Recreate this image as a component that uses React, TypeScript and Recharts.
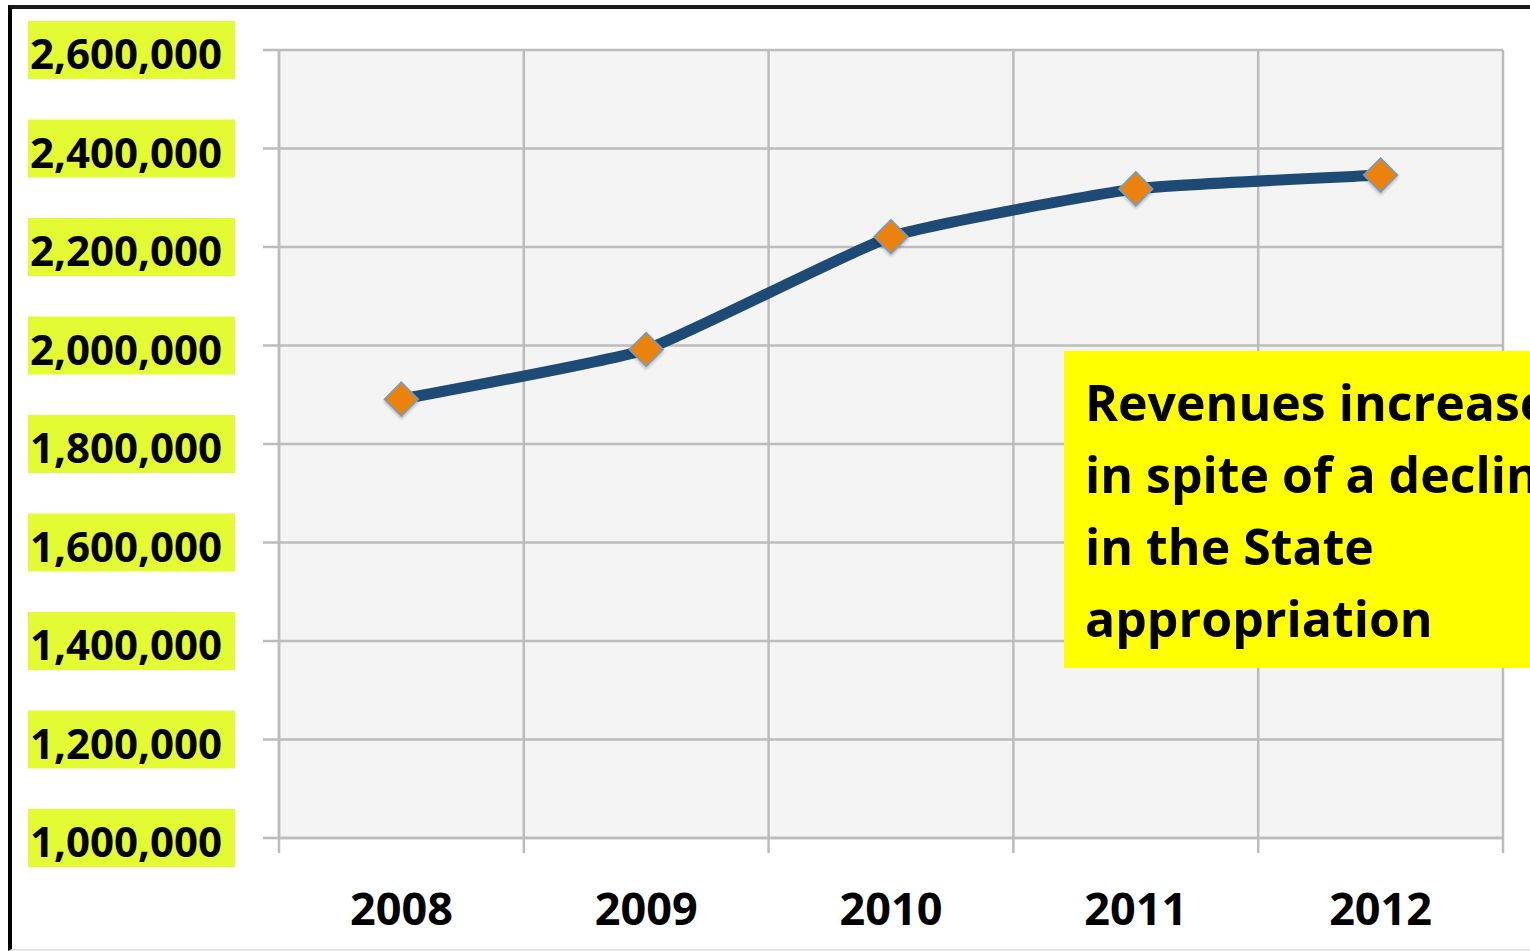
import React from 'react';
import { LineChart, Line, XAxis, YAxis, CartesianGrid } from 'recharts';

const years = ['2008', '2009', '2010', '2011', '2012'];
const revenues = [1891000, 1992000, 2221000, 2318000, 2346000];
const yTicks = [1000000, 1200000, 1400000, 1600000, 1800000, 2000000, 2200000, 2400000, 2600000];
const gridTicks = [0, 1, 2, 3, 4, 5];
const labelTicks = [0.5, 1.5, 2.5, 3.5, 4.5];
const noteLines = ['Revenues increased', 'in spite of a decline', 'in the State', 'appropriation'];

const X_MIN = 0;
const X_MAX = years.length;
const data = years.map((year, i) => ({ pos: i + 0.5, year, value: revenues[i] }));

const FONT = '"Open Sans", "DejaVu Sans", sans-serif';
const GRID = '#bcbcbc';
const SMOOTH = 1 / 14;

// Mild Excel-like smoothing (low-tension cardinal spline as cubic Bezier)
const excelSmooth = (context: any) => {
  let pts: number[][] = [];
  return {
    areaStart() {},
    areaEnd() {},
    lineStart() {
      pts = [];
    },
    point(x: number, y: number) {
      pts.push([+x, +y]);
    },
    lineEnd() {
      if (!pts.length) return;
      context.moveTo(pts[0][0], pts[0][1]);
      for (let i = 0; i < pts.length - 1; i++) {
        const p0 = pts[i - 1] || pts[i];
        const p1 = pts[i];
        const p2 = pts[i + 1];
        const p3 = pts[i + 2] || p2;
        context.bezierCurveTo(
          p1[0] + (p2[0] - p0[0]) * SMOOTH,
          p1[1] + (p2[1] - p0[1]) * SMOOTH,
          p2[0] - (p3[0] - p1[0]) * SMOOTH,
          p2[1] - (p3[1] - p1[1]) * SMOOTH,
          p2[0],
          p2[1]
        );
      }
    },
  };
};

const gridGen = (props: any) => {
  const { xAxis, offset } = props || {};
  if (xAxis && typeof xAxis.scale === 'function') return gridTicks.map((t) => xAxis.scale(t));
  if (offset) return gridTicks.map((t) => offset.left + ((t - X_MIN) / (X_MAX - X_MIN)) * offset.width);
  return [];
};

const YTick = (props: any) => {
  const { x, y, payload } = props;
  const label = Number(payload.value).toLocaleString('en-US');
  return (
    <g>
      <rect x={x - 207} y={y - 29} width={207} height={58} fill="#e2fb33" />
      <text x={x - 13} y={y + 19} textAnchor="end" fill="#000" fontSize={42} fontWeight={700} fontFamily={FONT}>
        {label}
      </text>
    </g>
  );
};

const EmptyTick = () => <g />;

const Diamond = (props: any) => {
  const { cx, cy } = props;
  if (cx == null || cy == null) return null;
  const r = 17;
  return (
    <polygon
      points={`${cx},${cy - r} ${cx + r},${cy} ${cx},${cy + r} ${cx - r},${cy}`}
      fill="#ea8208"
      stroke="#6a9fd2"
      strokeWidth={1.5}
      filter="url(#dshadow)"
    />
  );
};

export default function App() {
  return (
    <div style={{ position: 'absolute', left: 0, top: 0, width: 1530, height: 951, overflow: 'hidden', background: '#fff' }}>
      <div
        style={{
          position: 'absolute',
          left: 8,
          top: 5,
          width: 1600,
          height: 940,
          borderLeft: '4px solid #000',
          borderTop: '4px solid #1a1a1a',
          borderBottom: '2px solid #e6e6e6',
        }}
      />
      <div style={{ position: 'absolute', left: 0, top: 0 }}>
        <LineChart width={1530} height={951} data={data} margin={{ top: 50, right: 27, bottom: 33, left: 29 }}>
          <defs>
            <filter id="dshadow" x="-50%" y="-50%" width="200%" height="200%">
              <feDropShadow dx="0" dy="2" stdDeviation="1.5" floodColor="#000" floodOpacity="0.25" />
            </filter>
          </defs>
          <CartesianGrid
            xAxisId="grid"
            yAxisId="y"
            fill="#f4f4f4"
            stroke={GRID}
            strokeWidth={2.5}
            verticalCoordinatesGenerator={gridGen}
          />
          <XAxis
            xAxisId="grid"
            type="number"
            dataKey="pos"
            domain={[X_MIN, X_MAX]}
            ticks={gridTicks}
            tick={<EmptyTick />}
            tickSize={15}
            height={15}
            axisLine={{ stroke: GRID, strokeWidth: 2.5 }}
            tickLine={{ stroke: GRID, strokeWidth: 2.5 }}
          />
          <XAxis
            xAxisId="labels"
            type="number"
            dataKey="pos"
            domain={[X_MIN, X_MAX]}
            ticks={labelTicks}
            tickFormatter={(v: number) => years[Math.floor(v)]}
            axisLine={false}
            tickLine={false}
            tickSize={0}
            tickMargin={40}
            height={65}
            tick={{ fill: '#000', fontSize: 45, fontWeight: 700, fontFamily: FONT }}
          />
          <YAxis
            yAxisId="y"
            type="number"
            domain={[1000000, 2600000]}
            ticks={yTicks}
            width={250}
            tickSize={16}
            tickMargin={28}
            axisLine={{ stroke: GRID, strokeWidth: 2.5 }}
            tickLine={{ stroke: GRID, strokeWidth: 2.5 }}
            tick={<YTick />}
            interval={0}
          />
          <Line
            xAxisId="grid"
            yAxisId="y"
            type={excelSmooth as any}
            dataKey="value"
            stroke="#1d4b75"
            strokeWidth={11}
            dot={<Diamond />}
            activeDot={false}
            isAnimationActive={false}
          />
        </LineChart>
      </div>
      <div
        style={{
          position: 'absolute',
          left: 1064,
          top: 351,
          width: 600,
          height: 317,
          background: '#ffff00',
          boxSizing: 'border-box',
          paddingLeft: 21,
          paddingTop: 15,
          fontFamily: FONT,
          fontWeight: 700,
          fontSize: 50,
          lineHeight: '72px',
          color: '#000',
          whiteSpace: 'nowrap',
        }}
      >
        {noteLines.map((l, i) => (
          <div key={i}>{l}</div>
        ))}
      </div>
    </div>
  );
}
